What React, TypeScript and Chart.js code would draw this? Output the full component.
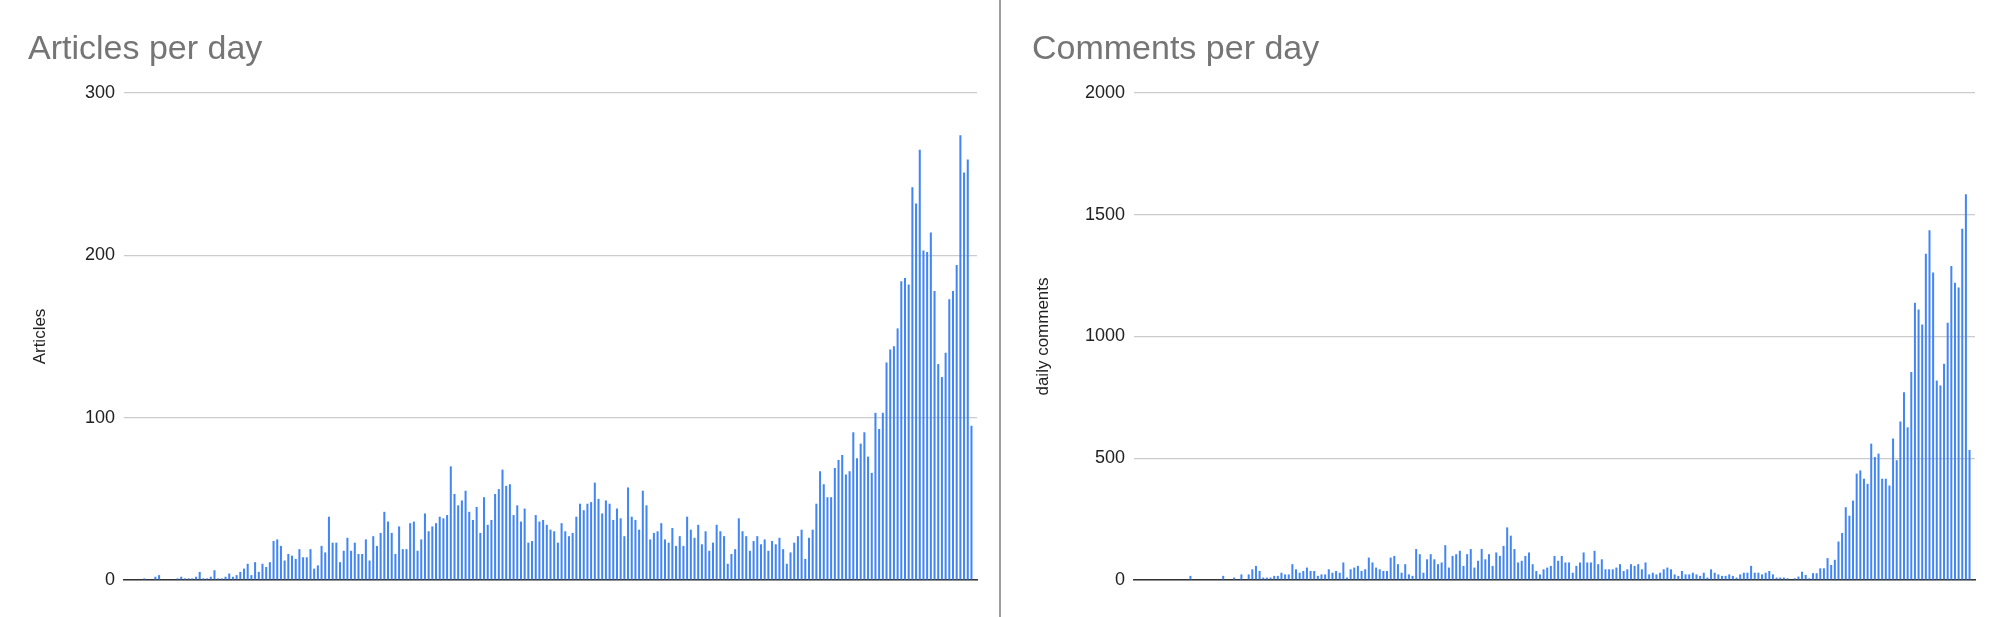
import React, { useEffect, useRef } from "react";
import { Chart, registerables } from "chart.js";

Chart.register(...registerables);

// Daily article counts (one value per day, oldest first)
const articleValues: number[] = [
  0, 0, 0, 0, 0,
  1, 0, 0, 2, 3, 0, 0, 0, 0, 1,
  2, 1, 1, 1, 2, 5, 1, 1, 2, 6,
  1, 1, 2, 4, 2, 3, 5, 7, 10, 3,
  11, 5, 10, 8, 11, 24, 25, 21, 12, 16,
  15, 13, 19, 14, 14, 19, 7, 9, 21, 17,
  39, 23, 23, 11, 18, 26, 18, 23, 16, 16,
  25, 12, 27, 21, 29, 42, 36, 29, 16, 33,
  19, 19, 35, 36, 18, 25, 41, 30, 33, 35,
  39, 38, 40, 70, 53, 46, 49, 55, 42, 37,
  45, 29, 51, 34, 37, 53, 56, 68, 58, 59,
  40, 46, 36, 44, 23, 24, 40, 36, 37, 34,
  31, 30, 23, 35, 30, 27, 29, 39, 47, 43,
  47, 48, 60, 50, 41, 49, 47, 37, 44, 38,
  27, 57, 39, 37, 31, 55, 46, 25, 29, 30,
  35, 25, 23, 32, 21, 27, 21, 39, 31, 26,
  34, 22, 30, 18, 23, 34, 30, 27, 10, 16,
  19, 38, 30, 27, 18, 24, 27, 22, 25, 18,
  24, 22, 26, 19, 10, 17, 23, 27, 31, 13,
  26, 31, 47, 67, 59, 51, 51, 69, 74, 77,
  65, 67, 91, 75, 84, 91, 76, 66, 103, 93,
  103, 134, 142, 144, 155, 184, 186, 182, 242, 232,
  265, 203, 202, 214, 178, 133, 125, 140, 173, 178,
  194, 274, 251, 259, 95,
  0,
];

// Daily comment counts (same days)
const commentValues: number[] = [
  0, 0, 0, 0, 0, 0, 0, 0, 0, 0,
  0, 0, 0, 0, 0, 17, 0, 0, 0, 0,
  0, 0, 0, 0, 17, 0, 0, 10, 0, 23,
  0, 23, 44, 58, 37, 10, 10, 10, 17, 17,
  30, 23, 23, 65, 44, 30, 37, 51, 37, 37,
  17, 23, 23, 44, 30, 37, 30, 72, 10, 44,
  51, 58, 37, 44, 92, 72, 51, 44, 37, 37,
  92, 99, 65, 30, 65, 23, 17, 127, 106, 30,
  85, 106, 85, 65, 72, 143, 51, 99, 106, 120,
  58, 106, 127, 51, 79, 127, 85, 106, 58, 113,
  99, 140, 216, 182, 127, 72, 79, 99, 113, 65,
  37, 23, 44, 51, 58, 99, 79, 99, 72, 72,
  30, 58, 72, 113, 72, 72, 120, 65, 85, 44,
  44, 44, 51, 65, 37, 44, 65, 58, 65, 44,
  72, 23, 30, 23, 30, 44, 51, 44, 23, 17,
  37, 23, 23, 30, 23, 17, 30, 10, 44, 30,
  23, 17, 17, 23, 17, 10, 23, 30, 30, 58,
  30, 30, 23, 30, 37, 23, 10, 10, 10, 7,
  0, 7, 14, 34, 21, 7, 28, 28, 48, 48,
  90, 62, 83, 158, 193, 299, 264, 326, 437, 450,
  416, 395, 560, 505, 519, 416, 416, 388, 581, 492,
  651, 771, 627, 854, 1139, 1111, 1049, 1340, 1436, 1263,
  819, 799, 888, 1056, 1290, 1221, 1201, 1443, 1584, 534,
  0,
];

const dayLabels: string[] = articleValues.map((_, i) => `Day ${i + 1}`);

const articleAxis = { max: 300, step: 100 };
const commentAxis = { max: 2000, step: 500 };

const FONT = '"Liberation Sans", Arial, Helvetica, sans-serif';
const H = 617;

type PanelProps = {
  left: number;
  width: number;
  title: string;
  axisTitle: string;
  values: number[];
  max: number;
  step: number;
  padLeft: number;
  padRight: number;
  yWidth: number;
  axisTitlePad: number;
};

function BarPanel(p: PanelProps) {
  const ref = useRef<HTMLCanvasElement>(null);
  useEffect(() => {
    if (!ref.current) return;
    const chart = new Chart(ref.current, {
      type: "bar",
      data: {
        labels: dayLabels,
        datasets: [
          {
            data: p.values,
            backgroundColor: "#4285f4",
            borderWidth: 0,
            barPercentage: 0.55,
            categoryPercentage: 1,
          },
        ],
      },
      options: {
        animation: false,
        responsive: false,
        maintainAspectRatio: false,
        layout: { padding: { left: p.padLeft, right: p.padRight, top: 0, bottom: 37 } },
        plugins: {
          legend: { display: false },
          tooltip: { enabled: false },
          title: {
            display: true,
            text: p.title,
            align: "start",
            color: "#757575",
            font: { family: FONT, size: 34, weight: "normal", lineHeight: 1.2 },
            padding: { top: 29, bottom: 23.2 },
          },
        },
        scales: {
          x: {
            grid: { display: false, drawTicks: false },
            ticks: { display: false },
            border: { display: true, color: "#333333", width: 1.5 },
            afterFit: (s: any) => {
              s.height = 0;
            },
          },
          y: {
            min: 0,
            max: p.max,
            ticks: {
              stepSize: p.step,
              color: "#222222",
              font: { family: FONT, size: 18 },
              padding: 9,
              callback: (v: any) => String(v),
            },
            grid: { color: "#cccccc", drawTicks: false, lineWidth: 1.2 },
            border: { display: false },
            title: {
              display: true,
              text: p.axisTitle,
              color: "#222222",
              font: { family: FONT, size: 17, lineHeight: 1.2 },
              padding: { top: p.axisTitlePad, bottom: 0 },
            },
            afterFit: (s: any) => {
              s.width = p.yWidth;
            },
          },
        },
      },
    });
    return () => chart.destroy();
  }, []);
  return (
    <canvas
      ref={ref}
      width={p.width}
      height={H}
      style={{ position: "absolute", left: p.left, top: 0, width: p.width, height: H }}
    />
  );
}

export default function App() {
  return (
    <div
      style={{
        position: "fixed",
        left: 0,
        top: 0,
        width: 2000,
        height: H,
        background: "#ffffff",
        overflow: "hidden",
      }}
    >
      <BarPanel
        left={0}
        width={1000}
        title="Articles per day"
        axisTitle="Articles"
        values={articleValues}
        max={articleAxis.max}
        step={articleAxis.step}
        padLeft={28}
        padRight={23}
        yWidth={96}
        axisTitlePad={2}
      />
      <div
        style={{
          position: "absolute",
          left: 999,
          top: 0,
          width: 2,
          height: H,
          background: "#9e9e9e",
        }}
      />
      <BarPanel
        left={1002}
        width={998}
        title="Comments per day"
        axisTitle="daily comments"
        values={commentValues}
        max={commentAxis.max}
        step={commentAxis.step}
        padLeft={30}
        padRight={25}
        yWidth={102}
        axisTitlePad={1}
      />
    </div>
  );
}
